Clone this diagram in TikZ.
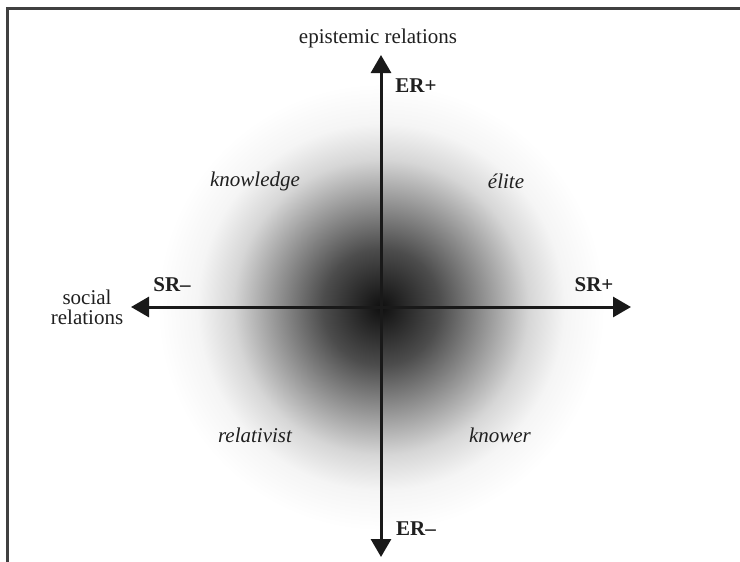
\documentclass[tikz,border=0pt]{standalone}
\usepackage{fontspec}
\setmainfont{Liberation Serif}
\usetikzlibrary{arrows.meta}

\pgfdeclareradialshading{fog}{\pgfpoint{0bp}{0bp}}{color(0bp)=(black!94); color(6.5bp)=(black!70); color(11.5bp)=(black!43); color(16.5bp)=(black!16); color(20.5bp)=(black!4); color(25bp)=(white); color(50bp)=(white)}

\begin{document}
\begin{tikzpicture}[x=0.5pt,y=-0.5pt,
	font=\fontsize{10.5}{12}\selectfont, text=black!88,
	axis/.style={line width=1.5pt, black!90, {Triangle[length=9pt,width=10pt]}-{Triangle[length=9pt,width=10pt]}},
	pole/.style={font=\fontsize{10.5}{12}\selectfont\bfseries},
	zone/.style={font=\fontsize{10.5}{12}\selectfont\itshape}]
	\useasboundingbox (0,0) rectangle (740,562);
	% frame: only top and left edges are in the cut
	\draw[line width=1.5pt, black!75] (740,8.5) -- (7.5,8.5) -- (7.5,562);
	% grey cloud round the origin
	\shade[shading=fog] (381,307) circle [radius=112pt];
	% axes
	\coordinate (ertop) at (381,55);
	\coordinate (erbot) at (381,557);
	\coordinate (srleft) at (131,307);
	\coordinate (srright) at (631,307);
	\draw[axis] (erbot) -- (ertop);
	\draw[axis] (srleft) -- (srright);
	% axis names and poles
	\node (ername) at (378,38) {epistemic relations};
	\node[align=center] (srname) at (87,307) {social\\[-2pt]relations};
	\node[pole] (erplus) at (416,86) {ER+};
	\node[pole] (erminus) at (416,529) {ER--};
	\node[pole] (srminus) at (172,285) {SR--};
	\node[pole] (srplus) at (594,285) {SR+};
	% quadrants
	\node[zone] (knowledge) at (255,181) {knowledge};
	\node[zone] (elite) at (506,181) {élite};
	\node[zone] (relativist) at (255,435) {relativist};
	\node[zone] (knower) at (500,435) {knower};
\end{tikzpicture}
\end{document}
